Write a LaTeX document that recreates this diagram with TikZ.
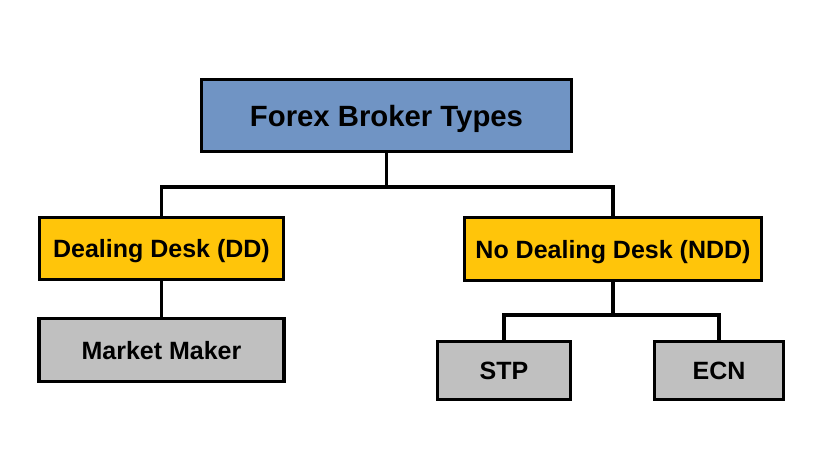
\documentclass[tikz,border=0pt]{standalone}
\usepackage{fontspec}
\setmainfont{Liberation Sans}
\usepackage{tikz}

\definecolor{rootblue}{RGB}{112,148,196}
\definecolor{deskgold}{RGB}{255,197,10}
\definecolor{kindgrey}{RGB}{192,192,192}

\begin{document}
\begin{tikzpicture}[x=1pt, y=-1pt,
        box/.style={draw=black, line width=3.5pt, inner sep=0pt, text depth=0pt, font=\bfseries\fontsize{25}{29}\selectfont},
        rootbox/.style={box, fill=rootblue, font=\bfseries\fontsize{29.3}{33}\selectfont},
        deskbox/.style={box, fill=deskgold},
        kindbox/.style={box, fill=kindgrey},
        link/.style={line width=3.5pt}]
        % Рамка рисунка
        \useasboundingbox (0,0) rectangle (825,475);

        % Корень
        \node[rootbox, minimum width=370pt, minimum height=72pt] (root) at (386.5,115.5) {Forex Broker Types};

        % Типы дилинга
        \node[deskbox, minimum width=244pt, minimum height=62pt] (dd) at (161.5,248.5) {Dealing Desk (DD)};
        \node[deskbox, minimum width=297pt, minimum height=63pt] (ndd) at (613,249) {No Dealing Desk (NDD)};

        % Виды брокеров
        \node[kindbox, minimum width=245pt, minimum height=63pt] (mm) at (161.5,350) {Market Maker};
        \node[kindbox, minimum width=133pt, minimum height=58pt] (stp) at (504,370.5) {STP};
        \node[kindbox, minimum width=129pt, minimum height=58pt] (ecn) at (719,370.5) {ECN};

        % Узлы ветвления
        \coordinate (split) at (386.5,187);
        \coordinate (subsplit) at (613,315);

        % Соединения
        \draw[link] (root.south) -- (split);
        \draw[link] (dd.north) |- (split) -| (ndd.north);
        \draw[link] (dd.south) -- (mm.north);
        \draw[link] (ndd.south) -- (subsplit);
        \draw[link] (stp.north) |- (subsplit) -| (ecn.north);
    \end{tikzpicture}
\end{document}
